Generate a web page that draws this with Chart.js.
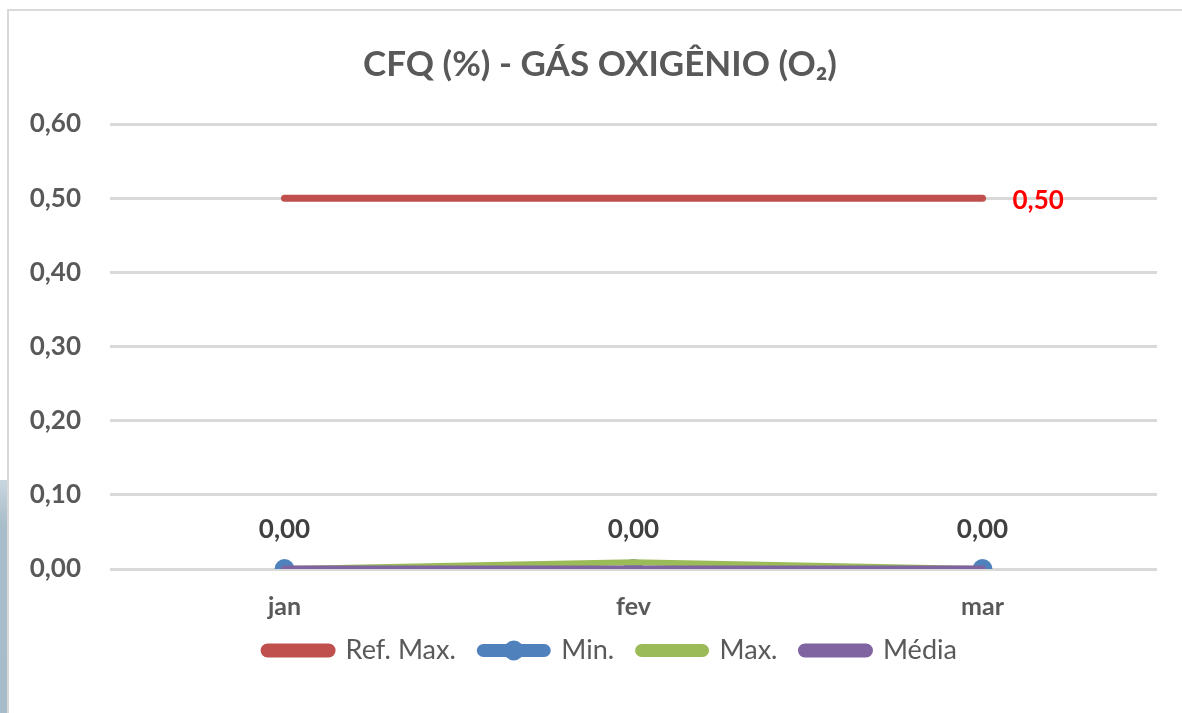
<!DOCTYPE html>
<html>
<head>
<meta charset="utf-8">
<script src="https://cdn.jsdelivr.net/npm/chart.js@4.4.0/dist/chart.umd.min.js"></script>
<style>
  html, body { margin: 0; padding: 0; background: #ffffff; }
  #wrap { position: relative; width: 1182px; height: 713px; overflow: hidden; }
  #deco { position: absolute; left: 0; top: 480px; width: 7px; height: 233px;
          background: linear-gradient(180deg, #c9d6df 0%, #a8bcc9 20%, #a7bbc8 100%); }
  #frameL { position: absolute; left: 7px; top: 9px; width: 2px; height: 704px; background: #d9d9d9; }
  #frameT { position: absolute; left: 7px; top: 9px; width: 1175px; height: 2px; background: #d9d9d9; }
  canvas { position: absolute; left: 0; top: 0; }
</style>
</head>
<body>
<div id="wrap">
  <div id="deco"></div>
  <div id="frameL"></div>
  <div id="frameT"></div>
  <canvas id="c" width="1182" height="713"></canvas>
</div>
<script>
const titleText = "CFQ (%) - GÁS OXIGÊNIO (O\u2082)";
const categories = ["jan", "fev", "mar"];
const refMax = [0.50, 0.50, 0.50];
const minVals = [0.00, 0.00, 0.00];
const maxVals = [0.00, 0.009, 0.00];
const mediaVals = [0.00, 0.00, 0.00];
const seriesNames = ["Ref. Max.", "Min.", "Max.", "Média"];
const seriesColors = ["#C0504D", "#4F81BD", "#9BBB59", "#8064A2"];
const yTicks = [0, 0.1, 0.2, 0.3, 0.4, 0.5, 0.6];

const FONT = "Lato, 'Open Sans', 'Liberation Sans', sans-serif";
const fmt = v => v.toFixed(2).replace('.', ',');

const TITLE_DX = 21.5, LEGEND_DX = 32, LEGEND_DY = -18;

const labelPlugin = {
  id: 'valueLabels',
  beforeDraw(chart) {
    const tb = chart.titleBlock;
    if (tb && !tb._shifted) { tb.left += TITLE_DX; tb.right += TITLE_DX; tb._shifted = true; }
    const lg = chart.legend;
    if (lg && !lg._shifted) {
      lg.left += LEGEND_DX; lg.right += LEGEND_DX;
      lg.top += LEGEND_DY; lg.bottom += LEGEND_DY;
      (lg.legendHitBoxes || []).forEach(hb => { hb.left += LEGEND_DX; hb.top += LEGEND_DY; });
      lg._shifted = true;
    }
  },
  afterLayout(chart) {
    if (chart.titleBlock) chart.titleBlock._shifted = false;
    if (chart.legend) chart.legend._shifted = false;
  },
  afterDatasetsDraw(chart) {
    const ctx = chart.ctx;
    ctx.save();
    ctx.font = "bold 26px " + FONT;
    ctx.textBaseline = 'middle';
    const mMeta = chart.getDatasetMeta(3);
    ctx.fillStyle = '#404040';
    ctx.textAlign = 'center';
    mMeta.data.forEach((pt, i) => {
      ctx.fillText(fmt(mediaVals[i]), pt.x, pt.y - 39);
    });
    const rMeta = chart.getDatasetMeta(0);
    const last = rMeta.data[rMeta.data.length - 1];
    ctx.fillStyle = '#FF0000';
    ctx.textAlign = 'left';
    ctx.fillText(fmt(refMax[refMax.length - 1]), last.x + 30, last.y + 2);
    ctx.restore();
  },
  afterDraw(chart) {
    const lg = chart.legend;
    if (!lg || !lg.legendHitBoxes) return;
    const idx = lg.legendItems.findIndex(it => it.datasetIndex === 1);
    const hb = lg.legendHitBoxes[idx];
    if (!hb) return;
    const ctx = chart.ctx;
    ctx.save();
    ctx.fillStyle = seriesColors[1];
    ctx.beginPath();
    ctx.arc(hb.left + 68 / 2, hb.top + hb.height / 2, 10, 0, Math.PI * 2);
    ctx.fill();
    ctx.restore();
  }
};

new Chart(document.getElementById('c'), {
  type: 'line',
  data: {
    labels: categories,
    datasets: [
      { label: seriesNames[0], data: refMax, borderColor: seriesColors[0], backgroundColor: seriesColors[0],
        borderWidth: 7, borderCapStyle: 'round', pointRadius: 0, order: 3 },
      { label: seriesNames[1], data: minVals, borderColor: seriesColors[1], backgroundColor: seriesColors[1],
        borderWidth: 6, pointRadius: 10, pointBackgroundColor: seriesColors[1], pointBorderWidth: 0, order: 2 },
      { label: seriesNames[2], data: maxVals, borderColor: seriesColors[2], backgroundColor: seriesColors[2],
        borderWidth: 6, pointRadius: 0, order: 1 },
      { label: seriesNames[3], data: mediaVals, borderColor: seriesColors[3], backgroundColor: seriesColors[3],
        borderWidth: 7, borderCapStyle: 'round', pointRadius: 0, order: 0 }
    ]
  },
  options: {
    responsive: false,
    animation: false,
    layout: { padding: { left: 0, right: 25, top: 0, bottom: 21 } },
    plugins: {
      title: {
        display: true, text: titleText, color: '#595959',
        font: { family: FONT, size: 35, weight: 'bold' },
        padding: { top: 44, bottom: 38 }
      },
      legend: {
        position: 'bottom',
        labels: {
          color: '#595959', font: { family: FONT, size: 27 },
          boxWidth: 68, boxHeight: 7, padding: 24,
          useBorderRadius: true, borderRadius: 3.5,
          sort: (a, b) => a.datasetIndex - b.datasetIndex
        }
      },
      tooltip: { enabled: false }
    },
    scales: {
      x: {
        offset: true,
        afterFit(scale) { scale.height = 62; },
        grid: { display: false },
        border: { display: false },
        ticks: { color: '#595959', font: { family: FONT, size: 25, weight: 'bold' }, padding: 15 }
      },
      y: {
        min: 0, max: 0.6,
        afterFit(scale) { scale.width = 110; },
        afterBuildTicks(scale) { scale.ticks = yTicks.map(v => ({ value: v })); },
        grid: { color: '#d9d9d9', lineWidth: 3, drawTicks: false },
        border: { display: false },
        ticks: { color: '#595959', font: { family: FONT, size: 26, weight: 'bold' }, padding: 29,
                 callback: v => fmt(v) }
      }
    }
  },
  plugins: [labelPlugin]
});
</script>
</body>
</html>
